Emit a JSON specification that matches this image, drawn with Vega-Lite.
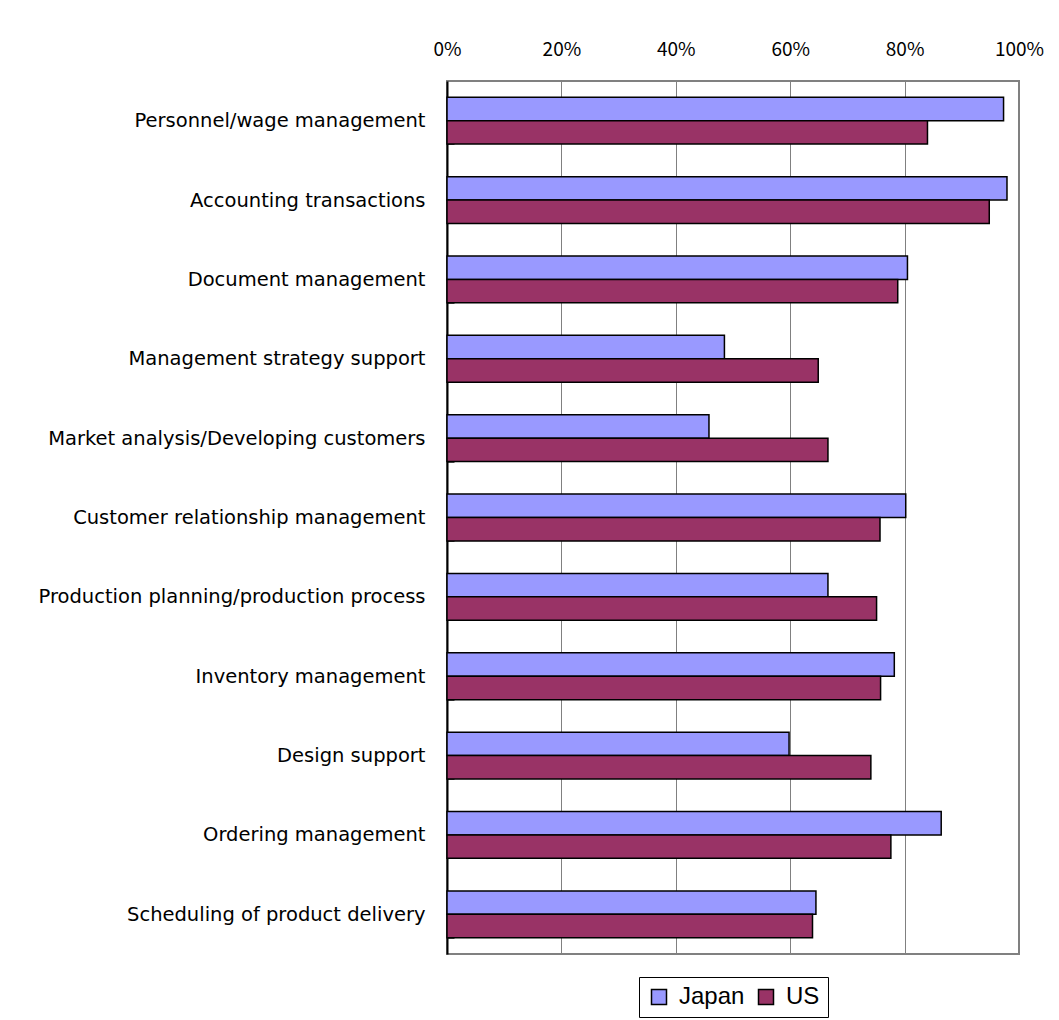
{
  "$schema": "https://vega.github.io/schema/vega-lite/v6.json",
  "autosize": {"type": "none"},
  "padding": {"left": 447, "top": 81, "right": 40, "bottom": 66},
  "width": 572,
  "height": 873,
  "background": "white",
  "config": {
    "view": {"stroke": "#808080", "strokeWidth": 2},
    "font": "DejaVu Sans"
  },
  "data": {
    "values": [
      {"category": "Personnel/wage management", "country": "Japan", "value": 97.3},
      {"category": "Personnel/wage management", "country": "US", "value": 84.0},
      {"category": "Accounting transactions", "country": "Japan", "value": 97.9},
      {"category": "Accounting transactions", "country": "US", "value": 94.8},
      {"category": "Document management", "country": "Japan", "value": 80.5},
      {"category": "Document management", "country": "US", "value": 78.8},
      {"category": "Management strategy support", "country": "Japan", "value": 48.5},
      {"category": "Management strategy support", "country": "US", "value": 64.9},
      {"category": "Market analysis/Developing customers", "country": "Japan", "value": 45.8},
      {"category": "Market analysis/Developing customers", "country": "US", "value": 66.6},
      {"category": "Customer relationship management", "country": "Japan", "value": 80.2},
      {"category": "Customer relationship management", "country": "US", "value": 75.7},
      {"category": "Production planning/production process", "country": "Japan", "value": 66.6},
      {"category": "Production planning/production process", "country": "US", "value": 75.1},
      {"category": "Inventory management", "country": "Japan", "value": 78.2},
      {"category": "Inventory management", "country": "US", "value": 75.8},
      {"category": "Design support", "country": "Japan", "value": 59.8},
      {"category": "Design support", "country": "US", "value": 74.1},
      {"category": "Ordering management", "country": "Japan", "value": 86.4},
      {"category": "Ordering management", "country": "US", "value": 77.6},
      {"category": "Scheduling of product delivery", "country": "Japan", "value": 64.5},
      {"category": "Scheduling of product delivery", "country": "US", "value": 63.9}
    ]
  },
  "mark": {"type": "bar", "stroke": "black", "strokeWidth": 1.5, "cornerRadius": 0},
  "encoding": {
    "y": {
      "field": "category",
      "type": "nominal",
      "sort": null,
      "scale": {"paddingInner": 0.41, "paddingOuter": 0.205},
      "axis": {
        "title": null,
        "tickBand": "extent",
        "tickSize": -7,
        "tickColor": "#555555",
        "tickWidth": 1,
        "domainColor": "black",
        "domainWidth": 2,
        "labelFont": "DejaVu Sans",
        "labelFontSize": 19.5,
        "labelColor": "black",
        "labelPadding": 29,
        "labelLimit": 500
      }
    },
    "yOffset": {"field": "country", "type": "nominal", "sort": ["Japan", "US"]},
    "x": {
      "field": "value",
      "type": "quantitative",
      "scale": {"domain": [0, 100], "nice": false},
      "axis": {
        "orient": "top",
        "title": null,
        "values": [0, 20, 40, 60, 80, 100],
        "labelExpr": "datum.value + '%'",
        "grid": true,
        "gridColor": "#808080",
        "gridWidth": 1,
        "gridOpacity": 1,
        "ticks": false,
        "domain": false,
        "labelFont": "Noto Sans CJK JP",
        "labelFontSize": 19,
        "labelColor": "black",
        "labelPadding": 22,
        "labelFlush": false
      }
    },
    "fill": {
      "field": "country",
      "type": "nominal",
      "sort": ["Japan", "US"],
      "scale": {"domain": ["Japan", "US"], "range": ["#9999FF", "#993366"]},
      "legend": {
        "title": null,
        "orient": "none",
        "legendX": 192,
        "legendY": 896,
        "direction": "horizontal",
        "strokeColor": "black",
        "fillColor": "white",
        "padding": 8,
        "symbolType": "square",
        "symbolSize": 225,
        "symbolStrokeColor": "black",
        "symbolStrokeWidth": 1.5,
        "symbolOpacity": 1,
        "labelFont": "Liberation Sans",
        "labelFontSize": 24,
        "labelColor": "black",
        "columnPadding": 9,
        "labelOffset": 8
      }
    }
  }
}
